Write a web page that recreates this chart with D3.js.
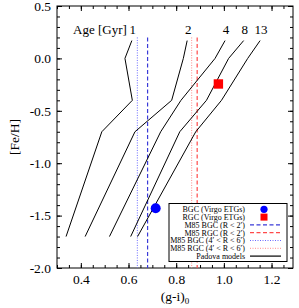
<!DOCTYPE html>
<html>
<head>
<meta charset="utf-8">
<script src="https://cdn.jsdelivr.net/npm/d3@7"></script>
<style>
  body { margin: 0; background: #fff; }
  text { font-family: "Liberation Serif", "Times New Roman", serif; fill: #000; }
</style>
</head>
<body>
<div id="chart"></div>
<script>
// Padova model grid: [Fe/H] levels and (g-i)0 colour for each age
const feh = [0.17, 0.0, -0.4, -0.7, -1.7]
const ages = ['1', '2', '4', '8', '13']
const age1 = [0.614, 0.585, 0.616, 0.488, 0.338]
const age2 = [0.846, 0.83, 0.781, 0.627, 0.418]
const age4 = [1.005, 0.963, 0.82, 0.735, 0.52]
const age8 = [1.083, 1.02, 0.927, 0.815, 0.609]
const age13 = [1.152, 1.10, 0.99, 0.882, 0.638]
const models = [age1, age2, age4, age8, age13]

// Virgo ETG globular clusters [colour, Fe/H]
const bgc = [0.714, -1.43]
const rgc = [0.977, -0.244]

// M85 mean colours: BGC R<2', RGC R<2', BGC 4'-6', RGC 4'-6'
const m85Colours = [0.68, 0.888, 0.637, 0.865]
const m85Range = [0.2, -2.0]

const legendLabels = [
  'BGC (Virgo ETGs)',
  'RGC (Virgo ETGs)',
  'M85 BGC (R < 2\u2032)',
  'M85 RGC (R < 2\u2032)',
  'M85 BGC (4\u2032 < R < 6\u2032)',
  'M85 RGC (4\u2032 < R < 6\u2032)',
  'Padova models'
]

const xMajor = [0.4, 0.6, 0.8, 1.0, 1.2]
const yMajor = [-2.0, -1.5, -1.0, -0.5, 0.0, 0.5]

const W = 299
const H = 308
const L = 57, R = 293, T = 6, B = 268

const svg = d3.select('#chart').append('svg').attr('width', W).attr('height', H)

const x = d3.scaleLinear([0.3, 1.29], [L, R])
const y = d3.scaleLinear([-2.0, 0.5], [B, T])

const xMinor = d3.range(0.3, 1.29, 0.05)
const yMinor = d3.range(-2.0, 0.501, 0.1)
const fmt = (d) => d.toFixed(1)

// axes, ticks inward
function addAxis(axis, tx, ty, vals, size, labels) {
  const g = svg.append('g').attr('transform', `translate(${tx},${ty})`)
    .call(axis.tickValues(vals).tickSize(-size).tickPadding(labels ? 6 : 0)
      .tickFormat(labels ? fmt : ''))
  g.select('.domain').remove()
  g.selectAll('line').attr('stroke', '#000')
  g.selectAll('text').style('font-size', '13.5px').attr('fill', '#000')
  return g
}
addAxis(d3.axisBottom(x), 0, B, xMinor, 3, false)
addAxis(d3.axisBottom(x), 0, B, xMajor, 5, true)
addAxis(d3.axisTop(x), 0, T, xMinor, 3, false)
addAxis(d3.axisTop(x), 0, T, xMajor, 5, false)
addAxis(d3.axisLeft(y), L, 0, yMinor, 3, false)
addAxis(d3.axisLeft(y), L, 0, yMajor, 5, true)
addAxis(d3.axisRight(y), R, 0, yMinor, 3, false)
addAxis(d3.axisRight(y), R, 0, yMajor, 5, false)

svg.append('rect').attr('x', L).attr('y', T).attr('width', R - L).attr('height', B - T)
  .attr('fill', 'none').attr('stroke', '#000')

svg.append('text').attr('x', (L + R) / 2).attr('y', 301).attr('text-anchor', 'middle')
  .style('font-size', '13.5px')
  .html('(g-i)<tspan dy="3" style="font-size:9px">0</tspan>')
svg.append('text').attr('transform', `translate(19,${(T + B) / 2}) rotate(-90)`)
  .attr('text-anchor', 'middle').style('font-size', '13.5px').text('[Fe/H]')

// M85 vertical lines
const vStyles = [
  { stroke: '#3a3ad8', dash: '4,2.5', w: 1.2 },
  { stroke: '#ff4a4a', dash: '4,2.5', w: 1.2 },
  { stroke: '#6a6aff', dash: '1,1.5', w: 1 },
  { stroke: '#ff8a8a', dash: '1,1.5', w: 1 }
]
svg.selectAll('.m85').data(m85Colours).enter().append('line')
  .attr('x1', (d) => x(d)).attr('x2', (d) => x(d))
  .attr('y1', y(m85Range[0])).attr('y2', y(m85Range[1]))
  .attr('stroke', (d, i) => vStyles[i].stroke)
  .attr('stroke-width', (d, i) => vStyles[i].w)
  .attr('stroke-dasharray', (d, i) => vStyles[i].dash)

// model tracks
const line = d3.line().x((d) => x(d[0])).y((d) => y(d[1]))
svg.selectAll('.model').data(models).enter().append('path')
  .attr('d', (m) => line(m.map((c, i) => [c, feh[i]])))
  .attr('fill', 'none').attr('stroke', '#000').attr('stroke-width', 1)

svg.selectAll('.age').data(models).enter().append('text')
  .attr('x', (m) => x(m[0]) + 1).attr('y', 34)
  .attr('text-anchor', 'middle').style('font-size', '13px')
  .text((m, i) => ages[i])
svg.append('text').attr('x', x(age1[0]) - 5).attr('y', 34)
  .attr('text-anchor', 'end').style('font-size', '13px').text('Age [Gyr]')

// data points
svg.append('circle').attr('cx', x(bgc[0])).attr('cy', y(bgc[1])).attr('r', 5).attr('fill', '#0000ff')
svg.append('rect').attr('x', x(rgc[0]) - 4.7).attr('y', y(rgc[1]) - 4.7)
  .attr('width', 9.4).attr('height', 9.4).attr('fill', '#ff0000')

// legend
const lg = svg.append('g')
lg.append('rect').attr('x', 169).attr('y', 203.5).attr('width', 118).attr('height', 58)
  .attr('fill', '#fff').attr('stroke', '#000').attr('stroke-width', 1)
const rowY = (i) => 209.3 + i * 7.8
lg.selectAll('text').data(legendLabels).enter().append('text')
  .attr('x', 245).attr('y', (d, i) => rowY(i) + 2.8).attr('text-anchor', 'end')
  .style('font-size', '8px').text((d) => d)
lg.append('circle').attr('cx', 264).attr('cy', rowY(0)).attr('r', 3.6).attr('fill', '#0000ff')
lg.append('rect').attr('x', 260.5).attr('y', rowY(1) - 3.5).attr('width', 7).attr('height', 7).attr('fill', '#ff0000')
const lgLines = vStyles.concat([{ stroke: '#000', dash: null, w: 1.2 }])
lg.selectAll('.lgl').data(lgLines).enter().append('line')
  .attr('x1', 250).attr('x2', 281)
  .attr('y1', (d, i) => rowY(i + 2)).attr('y2', (d, i) => rowY(i + 2))
  .attr('stroke', (d) => d.stroke).attr('stroke-width', (d) => d.w)
  .attr('stroke-dasharray', (d) => d.dash)
</script>
</body>
</html>
